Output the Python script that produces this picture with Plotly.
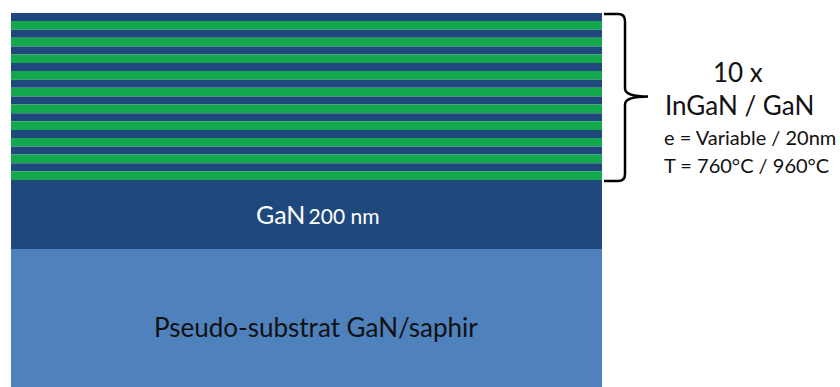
import plotly.graph_objects as go

# Layer stack (top to bottom), thickness in drawing units (not to scale)
mqw_periods = 10
barrier_thickness = 8.0   # GaN barrier
well_thickness = 8.7      # InGaN well
buffer_thickness = 69     # GaN 200 nm
substrate_thickness = 140 # Pseudo-substrat GaN/saphir
stack_top = 13
stack_left, stack_right = 11, 602

col_gan = "#1F497D"
col_ingan = "#12A84B"
col_sub = "#4F81BD"

names, thick, colors = [], [], []
for i in range(mqw_periods):
    names += ["GaN barrier", "InGaN well"]
    thick += [barrier_thickness, well_thickness]
    colors += [col_gan, col_ingan]
names += ["GaN 200 nm", "Pseudo-substrat GaN/saphir"]
thick += [buffer_thickness, substrate_thickness]
colors += [col_gan, col_sub]

bases = []
acc = stack_top
for t in thick:
    bases.append(acc)
    acc += t

cx = (stack_left + stack_right) / 2
fig = go.Figure(go.Bar(
    x=[cx] * len(thick), y=thick, base=bases, width=stack_right - stack_left,
    marker=dict(color=colors, line=dict(width=0)), hovertext=names, showlegend=False,
))

mqw_bottom = bases[2 * mqw_periods]
mid = (stack_top + mqw_bottom) / 2
bx = 625
path = (f"M 604 {stack_top+1} L 618 {stack_top+1} Q {bx} {stack_top+1} {bx} {stack_top+8} "
        f"L {bx} {mid-8} Q {bx} {mid} 648 {mid} Q {bx} {mid} {bx} {mid+8} "
        f"L {bx} {mqw_bottom-6} Q {bx} {mqw_bottom+1} 618 {mqw_bottom+1} L 604 {mqw_bottom+1}")
fig.add_shape(type="path", path=path, xref="x", yref="y",
              line=dict(color="black", width=2.5))

font = "Lato"
ann = [
    ("10 x", 738, 72, 26),
    ("InGaN / GaN", 739, 105, 26),
    ("e = Variable / 20nm", 750, 137, 20),
    ("T = 760°C / 960°C", 746, 165, 20),
]
for t, x, y, s in ann:
    fig.add_annotation(x=x, y=y, text=t, showarrow=False, xref="x", yref="y",
                       font=dict(family=font, size=s, color="#111111"))
fig.add_annotation(x=317, y=214, xref="x", yref="y", showarrow=False,
                   text="<span style='font-size:25px'>GaN</span> <span style='font-size:21px'>200 nm</span>",
                   font=dict(family=font, color="white"))
fig.add_annotation(x=316, y=327, xref="x", yref="y", showarrow=False,
                   text="Pseudo-substrat GaN/saphir",
                   font=dict(family=font, size=26, color="#111111"))

fig.update_layout(
    width=840, height=387, margin=dict(l=0, r=0, t=0, b=0),
    paper_bgcolor="white", plot_bgcolor="white", barmode="overlay",
    xaxis=dict(range=[0, 840], visible=False, fixedrange=True),
    yaxis=dict(range=[387, 0], visible=False, fixedrange=True),
)
fig.write_html("out.html", config={"displayModeBar": False},
               post_script="document.body.style.margin='0';document.body.style.overflow='hidden';")
